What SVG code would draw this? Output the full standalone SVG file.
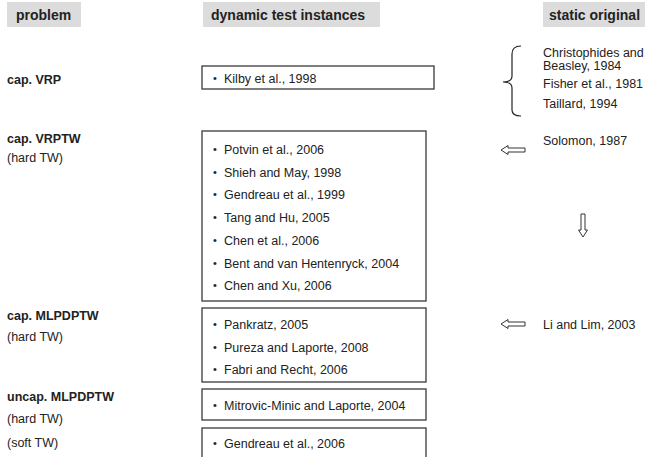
<svg xmlns="http://www.w3.org/2000/svg" width="645" height="457" viewBox="0 0 645 457">
<style>
text{font-family:"Liberation Sans",Arial,sans-serif;fill:#222}
.h{font-size:14px;font-weight:bold}
.hb{fill:#dcdcdc}
.p{font-size:12.5px;font-weight:bold}
.s{font-size:12.5px}
.t{font-size:12.5px}
.b{font-size:11px}
.box{fill:#fff;stroke:#3a3a3a;stroke-width:1.3}
.ar{fill:#fff;stroke:#333;stroke-width:1}
</style>
<rect width="645" height="457" fill="#fff"/>
<g id="headers">
<rect class="hb" x="7" y="2" width="74" height="25"/>
<text class="h" x="16" y="20">problem</text>
<rect class="hb" x="203" y="2" width="177" height="25"/>
<text class="h" x="211" y="20">dynamic test instances</text>
<rect class="hb" x="543" y="2" width="102" height="25"/>
<text class="h" x="549" y="20">static original</text>
</g>
<g id="problems">
<text class="p" x="7" y="84">cap. VRP</text>
<text class="p" x="7" y="143">cap. VRPTW</text>
<text class="s" x="7" y="162">(hard TW)</text>
<text class="p" x="7" y="320">cap. MLPDPTW</text>
<text class="s" x="7" y="341">(hard TW)</text>
<text class="p" x="7" y="401">uncap. MLPDPTW</text>
<text class="s" x="7" y="423">(hard TW)</text>
<text class="s" x="7" y="447">(soft TW)</text>
</g>
<g id="box-vrp">
<rect class="box" x="202" y="66" width="232" height="23"/>
<text class="b" x="213" y="82">•</text>
<text class="t" x="224" y="83">Kilby et al., 1998</text>
</g>
<g id="box-vrptw">
<rect class="box" x="202" y="131" width="224" height="170"/>
<text class="b" x="213" y="153">•</text><text class="t" x="224" y="154">Potvin et al., 2006</text>
<text class="b" x="213" y="175.5">•</text><text class="t" x="224" y="176.5">Shieh and May, 1998</text>
<text class="b" x="213" y="198">•</text><text class="t" x="224" y="199">Gendreau et al., 1999</text>
<text class="b" x="213" y="221">•</text><text class="t" x="224" y="222">Tang and Hu, 2005</text>
<text class="b" x="213" y="243.5">•</text><text class="t" x="224" y="244.5">Chen et al., 2006</text>
<text class="b" x="213" y="266.5">•</text><text class="t" x="224" y="267.5">Bent and van Hentenryck, 2004</text>
<text class="b" x="213" y="289">•</text><text class="t" x="224" y="290">Chen and Xu, 2006</text>
</g>
<g id="box-mlpdptw">
<rect class="box" x="202" y="308" width="224" height="74"/>
<text class="b" x="213" y="328">•</text><text class="t" x="224" y="329">Pankratz, 2005</text>
<text class="b" x="213" y="350.5">•</text><text class="t" x="224" y="351.5">Pureza and Laporte, 2008</text>
<text class="b" x="213" y="373">•</text><text class="t" x="224" y="374">Fabri and Recht, 2006</text>
</g>
<g id="box-uncap-hard">
<rect class="box" x="202" y="389" width="224" height="31"/>
<text class="b" x="213" y="409">•</text><text class="t" x="224" y="410">Mitrovic-Minic and Laporte, 2004</text>
</g>
<g id="box-uncap-soft">
<rect class="box" x="202" y="428" width="224" height="40"/>
<text class="b" x="213" y="446.5">•</text><text class="t" x="224" y="447.5">Gendreau et al., 2006</text>
</g>
<g id="static">
<text class="t" x="543" y="56.5">Christophides and</text>
<text class="t" x="543" y="69.5">Beasley, 1984</text>
<text class="t" x="543" y="87.5">Fisher et al., 1981</text>
<text class="t" x="543" y="107.5">Taillard, 1994</text>
<text class="t" x="543" y="144.5">Solomon, 1987</text>
<text class="t" x="543" y="328.5">Li and Lim, 2003</text>
</g>
<g id="connectors">
<path d="M521,46 Q512,46 512,54 L512,76 Q512,82 503,82 Q512,82 512,88 L512,110 Q512,116 521,116" fill="none" stroke="#222" stroke-width="1.2"/>
<polygon class="ar" points="501,150 508,145.5 508,148 525,148 525,152 508,152 508,154.5"/>
<polygon class="ar" points="501,324 508,319.5 508,322 525,322 525,326 508,326 508,328.5"/>
<polygon class="ar" points="581,214 585,214 585,230 587.5,230 583,237 578.5,230 581,230"/>
</g>
</svg>
